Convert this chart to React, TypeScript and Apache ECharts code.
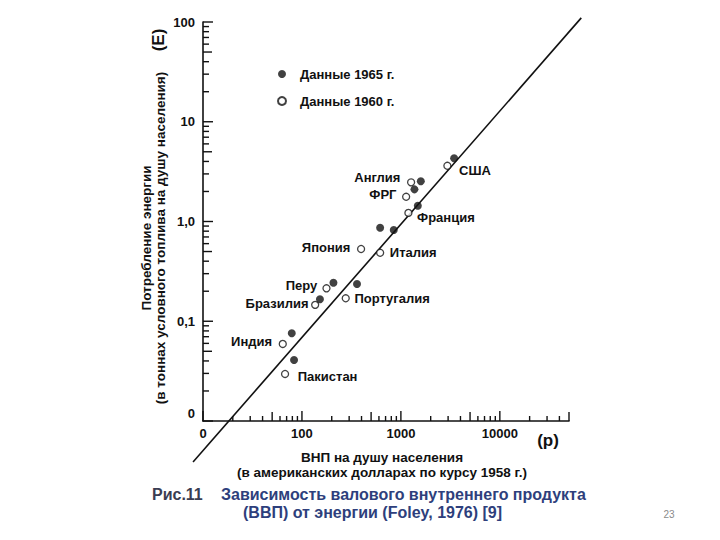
import React, { useEffect, useRef } from "react";
import * as echarts from "echarts";

const countries = ["США", "Англия", "ФРГ", "Франция", "Япония", "Италия", "Перу", "Бразилия", "Португалия", "Индия", "Пакистан"];
const gdp1960 = [2950, 1268, 1130, 1191, 396, 617, 177, 136, 277, 64.0, 67.5];
const energy1960 = [3.62, 2.47, 1.77, 1.22, 0.53, 0.486, 0.214, 0.146, 0.17, 0.0592, 0.0296];
const gdp1965 = [3450, 1589, 1371, 1483, 617, 847, 208, 152, 360, 78.9, 83.2];
const energy1965 = [4.3, 2.53, 2.1, 1.44, 0.867, 0.822, 0.243, 0.166, 0.236, 0.0757, 0.0409];

const xTickValues = [10, 100, 1000, 10000];
const xTickLabels = ["0", "100", "1000", "10000"];
const yTickValues = [0.01, 0.1, 1, 10, 100];
const yTickLabels = ["0", "0,1", "1,0", "10", "100"];

const trendLine = [
  [7.93, 0.00388],
  [66500, 110],
];

const X_MIN = 10;
const X_MAX = 50000;
const Y_MIN = 0.01;
const Y_MAX = 100;

// label placement (styling): side, gap, vertical shift
const labelPlacement: Record<string, [string, number, number]> = {
  "США": ["right", 7.5, 5],
  "Англия": ["left", 6.5, -5],
  "ФРГ": ["left", 5.5, -2],
  "Франция": ["right", 4.5, 5],
  "Япония": ["left", 6.5, -2],
  "Италия": ["right", 5.5, 0],
  "Перу": ["left", 5, -3],
  "Бразилия": ["left", 2.5, -1],
  "Португалия": ["right", 4.5, 0],
  "Индия": ["left", 6.5, -2],
  "Пакистан": ["right", 8.5, 3],
};

const FONT = '"Liberation Sans", Arial, sans-serif';
const INK = "#111";
const CAPTION = "#2e3f7c";

function findIdx(values: number[], v: number) {
  for (let i = 0; i < values.length; i++) {
    if (Math.abs(Math.log10(v) - Math.log10(values[i])) < 1e-6) return i;
  }
  return -1;
}

function buildTicks(lo: number, hi: number) {
  const out: [number, number][] = [];
  for (let e = Math.round(Math.log10(lo)); e <= Math.round(Math.log10(hi)); e++) {
    for (let m = 1; m <= 9; m++) {
      const v = m * Math.pow(10, e);
      if (v < lo * 0.999 || v > hi * 1.001) continue;
      out.push([v, m === 1 ? 2 : m === 5 ? 1 : 0]);
    }
  }
  return out;
}

export default function App() {
  const ref = useRef<HTMLDivElement>(null);
  useEffect(() => {
    if (!ref.current) return;
    const chart = echarts.init(ref.current, undefined, { renderer: "svg" });

    const xTicks = buildTicks(X_MIN, X_MAX).map(([v, l]) => [v, Y_MIN, l]);
    const yTicks = buildTicks(Y_MIN, Y_MAX).map(([v, l]) => [X_MIN, v, l]);

    const labelFont = {
      color: INK,
      fontWeight: "bold",
      fontSize: 13,
      fontFamily: FONT,
      textBorderWidth: 0,
      textBorderColor: "transparent",
      textShadowBlur: 0,
      opacity: 1,
    };

    const open = countries.map((c, i) => {
      const [pos, gap, dy] = labelPlacement[c];
      return {
        name: c,
        value: [gdp1960[i], energy1960[i]],
        label: {
          show: true,
          formatter: c,
          position: pos,
          distance: 0,
          offset: [pos === "left" ? -gap : gap, dy],
          ...labelFont,
        },
      };
    });
    const filled = countries.map((c, i) => ({ name: c, value: [gdp1965[i], energy1965[i]] }));

    const axisLabelStyle = { color: INK, fontWeight: "bold", fontSize: 13, fontFamily: FONT };

    chart.setOption({
      animation: false,
      backgroundColor: "#fff",
      grid: { left: 203, right: 151, top: 22, bottom: 119, containLabel: false },
      xAxis: {
        type: "log",
        logBase: 10,
        min: X_MIN,
        max: X_MAX,
        axisLine: { show: true, lineStyle: { color: INK, width: 1.6 } },
        axisTick: { show: false },
        splitLine: { show: false },
        axisLabel: {
          ...axisLabelStyle,
          margin: 6,
          showMinLabel: true,
          showMaxLabel: true,
          formatter: (v: number) => {
            const i = findIdx(xTickValues, v);
            return i < 0 ? "" : xTickLabels[i];
          },
        },
      },
      yAxis: {
        type: "log",
        logBase: 10,
        min: Y_MIN,
        max: Y_MAX,
        axisLine: { show: true, lineStyle: { color: INK, width: 1.6 } },
        axisTick: { show: false },
        splitLine: { show: false },
        axisLabel: {
          ...axisLabelStyle,
          margin: 8,
          showMinLabel: true,
          showMaxLabel: true,
          formatter: (v: number) => {
            const i = findIdx(yTickValues, v);
            if (i < 0) return "";
            return i === 0 ? `{low|${yTickLabels[i]}}` : yTickLabels[i];
          },
          rich: { low: { ...axisLabelStyle, padding: [0, 0, 16, 0] } },
        },
      },
      legend: {
        orient: "vertical",
        left: 277,
        top: 67,
        padding: 0,
        itemWidth: 8,
        itemHeight: 8,
        itemGap: 13,
        icon: "circle",
        data: ["Данные 1965 г.", "Данные 1960 г."],
        textStyle: { color: INK, fontWeight: "bold", fontSize: 13, fontFamily: FONT, lineHeight: 14, padding: [0, 0, 0, 9] },
      },
      series: [
        {
          type: "custom",
          name: "trend",
          data: [trendLine[0]],
          encode: { x: 0, y: 1 },
          silent: true,
          clip: false,
          z: 2,
          renderItem: (params: any, api: any) => {
            const a = api.coord(trendLine[0]);
            const b = api.coord(trendLine[1]);
            return { type: "line", shape: { x1: a[0], y1: a[1], x2: b[0], y2: b[1] }, style: { stroke: INK, lineWidth: 1.6 } };
          },
        },
        {
          type: "custom",
          name: "xticks",
          data: xTicks,
          encode: { x: 0, y: 1 },
          silent: true,
          z: 3,
          renderItem: (params: any, api: any) => {
            const p = api.coord([api.value(0), api.value(1)]);
            const lvl = api.value(2);
            const len = lvl === 2 ? 10 : lvl === 1 ? 9 : 5;
            return { type: "line", shape: { x1: p[0], y1: p[1], x2: p[0], y2: p[1] - len }, style: { stroke: INK, lineWidth: 1.4 } };
          },
        },
        {
          type: "custom",
          name: "yticks",
          data: yTicks,
          encode: { x: 0, y: 1 },
          silent: true,
          z: 3,
          renderItem: (params: any, api: any) => {
            const p = api.coord([api.value(0), api.value(1)]);
            const lvl = api.value(2);
            const len = lvl === 2 ? 10 : lvl === 1 ? 9 : 6;
            return { type: "line", shape: { x1: p[0], y1: p[1], x2: p[0] + len, y2: p[1] }, style: { stroke: INK, lineWidth: 1.4 } };
          },
        },
        {
          type: "scatter",
          name: "Данные 1965 г.",
          data: filled,
          symbol: "circle",
          symbolSize: 8,
          itemStyle: { color: INK },
          z: 5,
        },
        {
          type: "scatter",
          name: "Данные 1960 г.",
          data: open,
          symbol: "circle",
          symbolSize: 7,
          itemStyle: { color: "#fff", borderColor: INK, borderWidth: 1.3 },
          label: labelFont,
          z: 5,
        },
      ],
      graphic: [
        {
          type: "text",
          x: 158,
          y: 40,
          rotation: Math.PI / 2,
          style: { text: "(E)", fill: INK, font: `bold 17px ${FONT}`, textAlign: "center", textVerticalAlign: "middle" },
        },
        {
          type: "text",
          x: 146,
          y: 238,
          rotation: Math.PI / 2,
          style: { text: "Потребление энергии", fill: INK, font: `bold 13.5px ${FONT}`, textAlign: "center", textVerticalAlign: "middle" },
        },
        {
          type: "text",
          x: 160,
          y: 238,
          rotation: Math.PI / 2,
          style: { text: "(в тоннах условного топлива на душу населения)", fill: INK, font: `bold 13.5px ${FONT}`, textAlign: "center", textVerticalAlign: "middle" },
        },
        {
          type: "text",
          x: 382,
          y: 457.5,
          style: { text: "ВНП на душу населения", fill: INK, font: `bold 13.5px ${FONT}`, textAlign: "center", textVerticalAlign: "middle" },
        },
        {
          type: "text",
          x: 382,
          y: 472,
          style: { text: "(в американских долларах по курсу 1958 г.)", fill: INK, font: `bold 13.5px ${FONT}`, textAlign: "center", textVerticalAlign: "middle" },
        },
        {
          type: "text",
          x: 548,
          y: 440,
          style: { text: "(p)", fill: INK, font: `bold 17px ${FONT}`, textAlign: "center", textVerticalAlign: "middle" },
        },
        {
          type: "text",
          x: 152,
          y: 494,
          style: { text: "Рис.11", fill: "#3a3d52", font: `bold 16px ${FONT}`, textAlign: "left", textVerticalAlign: "middle" },
        },
        {
          type: "text",
          x: 221,
          y: 494,
          style: { text: "Зависимость валового внутреннего продукта", fill: CAPTION, font: `bold 16px ${FONT}`, textAlign: "left", textVerticalAlign: "middle" },
        },
        {
          type: "text",
          x: 243,
          y: 512,
          style: { text: "(ВВП) от энергии (Foley, 1976) [9]", fill: CAPTION, font: `bold 16px ${FONT}`, textAlign: "left", textVerticalAlign: "middle" },
        },
        {
          type: "text",
          x: 669,
          y: 514,
          style: { text: "23", fill: "#8a8a8a", font: `10px ${FONT}`, textAlign: "center", textVerticalAlign: "middle" },
        },
      ],
    });
    return () => chart.dispose();
  }, []);
  return <div ref={ref} style={{ position: "fixed", left: 0, top: 0, width: 720, height: 540, background: "#fff" }} />;
}
